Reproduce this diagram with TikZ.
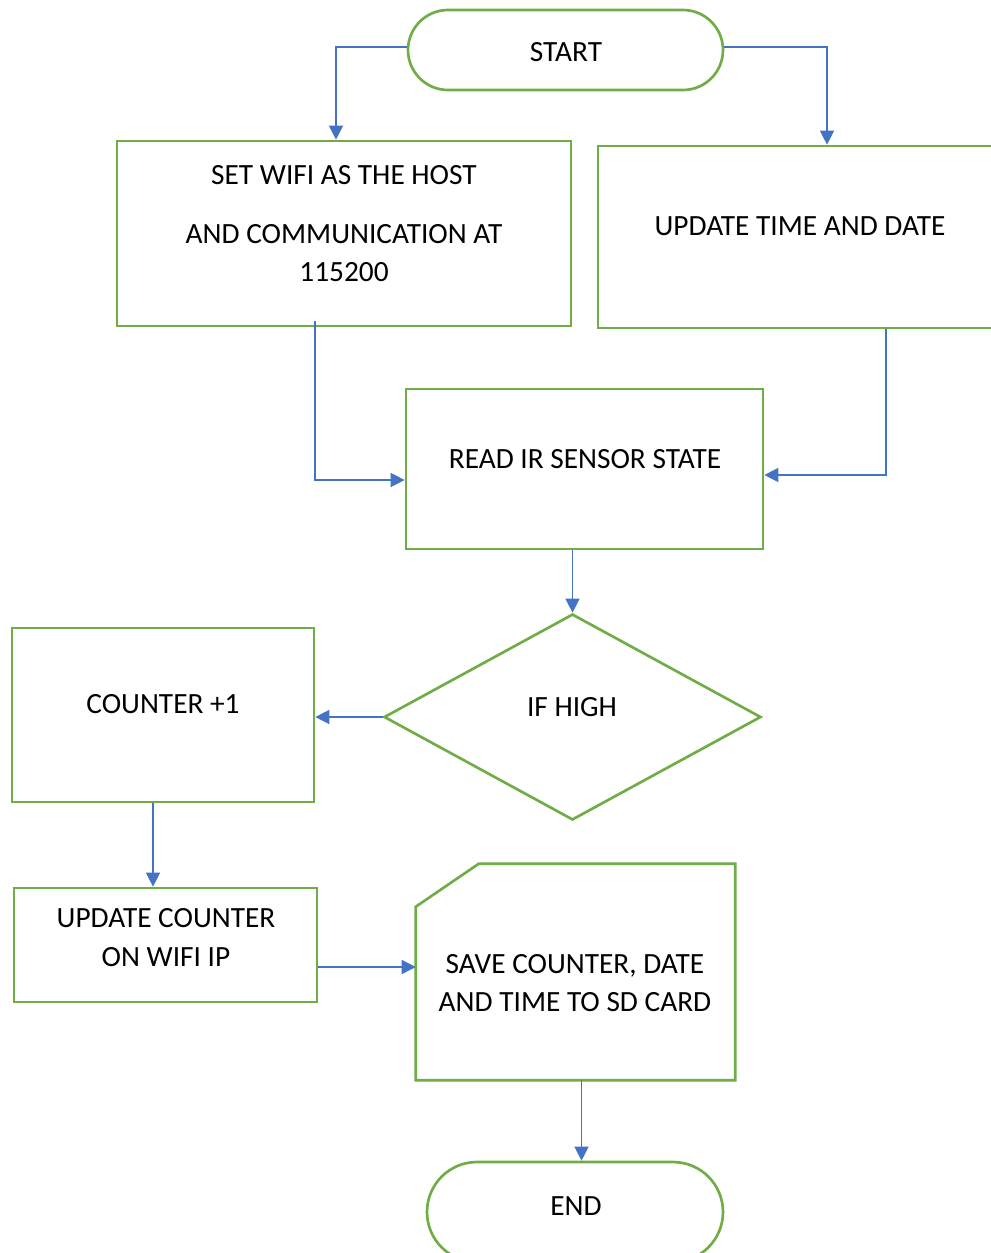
\documentclass[tikz,border=0pt]{standalone}
\usepackage{fontspec}
\setmainfont{Carlito}
\usetikzlibrary{arrows.meta,shapes.geometric}
\definecolor{gr}{HTML}{70AD47}
\definecolor{bl}{HTML}{4472C4}
\begin{document}
\begin{tikzpicture}[x=0.75pt,y=-0.75pt,
  shp/.style={draw=gr, line width=2pt, inner sep=0pt, line join=miter},
  bx/.style 2 args={shp, rectangle, minimum width=#1*0.75pt, minimum height=#2*0.75pt},
  ln/.style={draw=bl, line width=1pt, -{Triangle[length=10.5pt,width=10.5pt]}},
  txt/.style={inner sep=0pt, font=\fontsize{22}{27}\selectfont}]
\useasboundingbox (0,0) rectangle (991,1253);
\clip (0,0) rectangle (991,1253);
% shapes
\node[bx={315}{80}, rounded corners=30pt] (start) at (565.5,50) {};
\node[bx={454}{185}] (wifi) at (344,233.5) {};
\node[bx={458}{182}] (time) at (827,237) {};
\node[bx={357}{160}] (read) at (584.5,469) {};
\node[shp, diamond, minimum width=377*0.75pt, minimum height=206*0.75pt] (if) at (572.5,717) {};
\node[bx={302}{174}] (counter) at (163,715) {};
\node[bx={303}{114}] (upd) at (165.5,945) {};
\node[inner sep=0pt, minimum width=319*0.75pt, minimum height=216*0.75pt] (save) at (575.5,972) {};
\draw[shp] (save.south west) -- ([yshift=-32.25pt]save.north west) -- ([xshift=47.25pt]save.north west) -- (save.north east) -- (save.south east) -- cycle;
\node[bx={296}{100}, rounded corners=37.5pt] (end) at (575,1212) {};
% texts
\node[txt] (tstart) at (566,52) {START};
\node[txt] (tw1) at (344,175) {SET WIFI AS THE HOST};
\node[txt] (tw2) at (344,234) {AND COMMUNICATION AT};
\node[txt] (tw3) at (344,272) {115200};
\node[txt] (ttime) at (800,226) {UPDATE TIME AND DATE};
\node[txt] (tread) at (585,459) {READ IR SENSOR STATE};
\node[txt] (tif) at (572,707) {IF HIGH};
\node[txt] (tcnt) at (163,704) {COUNTER +1};
\node[txt] (tu1) at (166,918) {UPDATE COUNTER};
\node[txt] (tu2) at (166,957) {ON WIFI IP};
\node[txt, anchor=base] (ts1) at (575,973.5) {SAVE COUNTER, DATE};
\node[txt] (ts2) at (575,1002) {AND TIME TO SD CARD};
\node[txt] (tend) at (576,1206) {END};
% connectors
\draw[ln] ([yshift=2.25pt]start.west) -| ([xshift=-6pt]wifi.north);
\draw[ln] ([yshift=2.25pt]start.east) -| (time.north);
\draw[ln] ([xshift=-21.75pt,yshift=4.5pt]wifi.south) |- ([yshift=-8.25pt]read.west);
\draw[ln] ([xshift=44.25pt]time.south) |- ([yshift=-4.5pt]read.east);
\draw[ln] (read.south -| if.north) -- (if.north);
\draw[ln] (if.west) -- (if.west -| counter.east);
\draw[ln] ([xshift=-7.5pt]counter.south) -- ([xshift=-7.5pt]counter.south |- upd.north);
\draw[ln] ([yshift=-16.5pt]upd.east) -- ([yshift=-16.5pt]upd.east -| save.west);
\draw[ln] ([xshift=4.5pt]save.south) -- ([xshift=4.5pt]save.south |- end.north);
\end{tikzpicture}
\end{document}
